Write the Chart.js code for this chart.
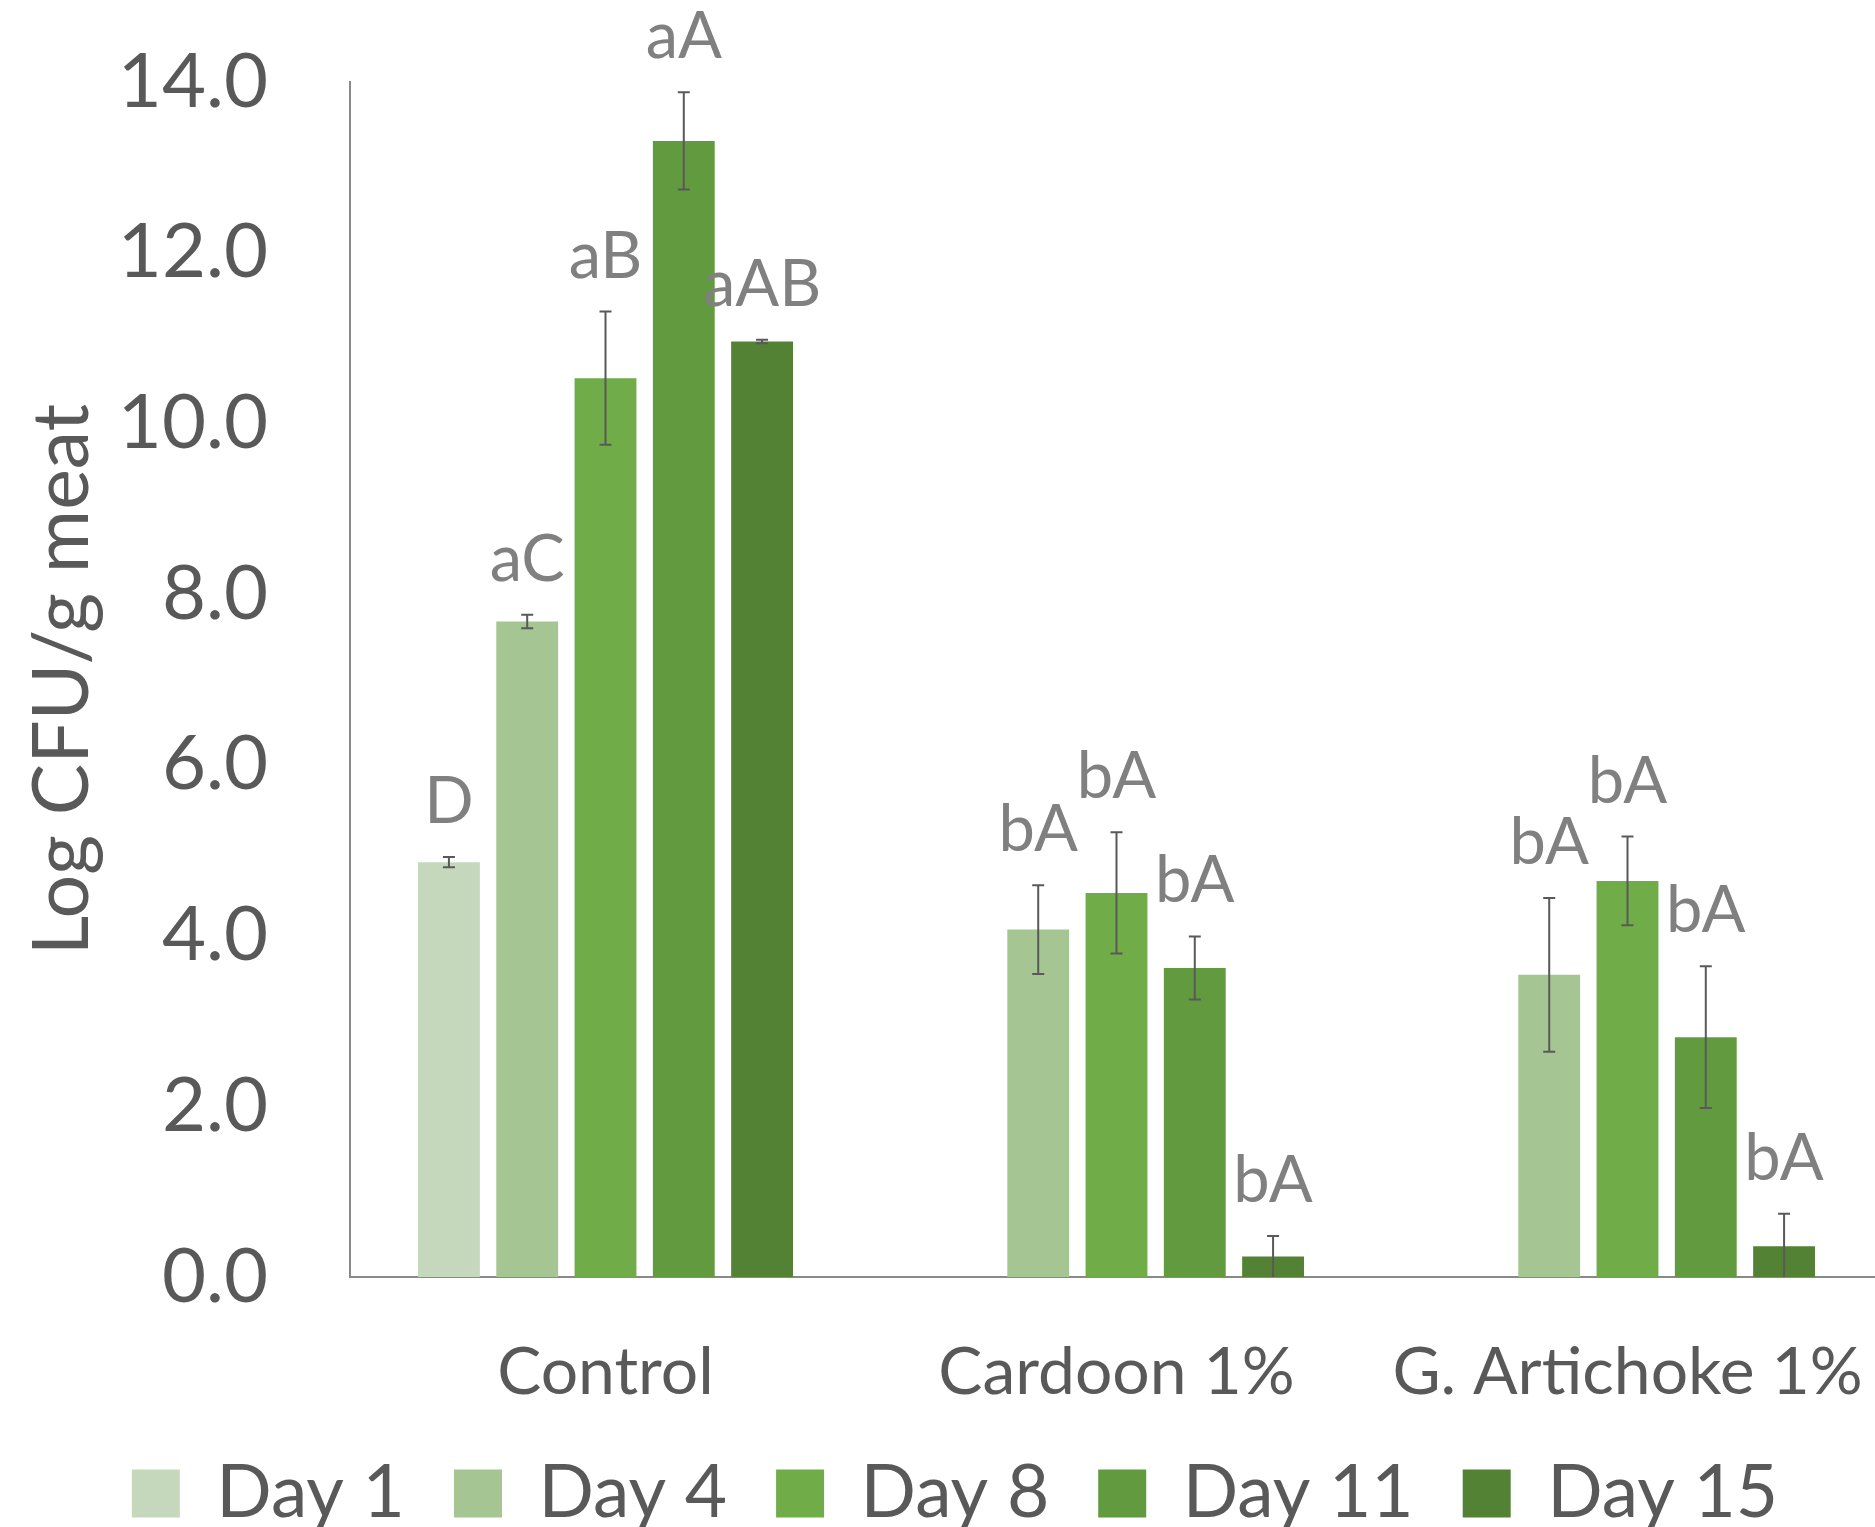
<!DOCTYPE html>
<html>
<head>
<meta charset="utf-8">
<script src="https://cdn.jsdelivr.net/npm/chart.js@4.4.1/dist/chart.umd.min.js"></script>
<style>
  html, body { margin: 0; padding: 0; background: #ffffff; overflow: hidden; width: 1875px; height: 1527px; }
  canvas { display: block; }
</style>
</head>
<body>
<canvas id="chart" width="1883" height="1540"></canvas>
<script>
// ---------------- data ----------------
const categories = ['Control', 'Cardoon 1%', 'G. Artichoke 1%'];
const seriesNames = ['Day 1', 'Day 4', 'Day 8', 'Day 11', 'Day 15'];

const day1  = [4.86, null, null];
const day4  = [7.68, 4.07, 3.54];
const day8  = [10.53, 4.50, 4.64];
const day11 = [13.31, 3.62, 2.81];
const day15 = [10.96, 0.24, 0.36];

const errDay1  = [0.06, null, null];
const errDay4  = [0.08, 0.52, 0.90];
const errDay8  = [0.78, 0.71, 0.52];
const errDay11 = [0.57, 0.37, 0.83];
const errDay15 = [0.02, 0.24, 0.38];

const sigDay1  = ['D', '', ''];
const sigDay4  = ['aC', 'bA', 'bA'];
const sigDay8  = ['aB', 'bA', 'bA'];
const sigDay11 = ['aA', 'bA', 'bA'];
const sigDay15 = ['aAB', 'bA', 'bA'];

const yTickValues = [0, 2, 4, 6, 8, 10, 12, 14];
const yTitle = 'Log CFU/g meat';

// ---------------- styles ----------------
const colors = ['#C5D8BB', '#A5C592', '#70AC48', '#629A3F', '#548235'];
const FONT = 'Lato, "Open Sans", sans-serif';

const values = [day1, day4, day8, day11, day15];
const errors = [errDay1, errDay4, errDay8, errDay11, errDay15];
const sigs = [sigDay1, sigDay4, sigDay8, sigDay11, sigDay15];

const datasets = seriesNames.map((name, i) => ({
  label: name,
  data: values[i],
  errors: errors[i],
  sig: sigs[i],
  backgroundColor: colors[i],
  borderColor: colors[i],
  borderWidth: 0,
  barPercentage: 0.79,
  categoryPercentage: 0.766
}));

const errorBarPlugin = {
  id: 'errorBars',
  afterDatasetsDraw(chart) {
    const ctx = chart.ctx;
    const y = chart.scales.y;
    ctx.save();
    chart.data.datasets.forEach((ds, i) => {
      const meta = chart.getDatasetMeta(i);
      meta.data.forEach((bar, j) => {
        const v = ds.data[j];
        const e = ds.errors[j];
        if (v === null || v === undefined) return;
        const x = bar.x;
        let topPx = y.getPixelForValue(v);
        if (e !== null && e !== undefined) {
          topPx = y.getPixelForValue(v + e);
          const low = v - e;
          const botPx = y.getPixelForValue(Math.max(0, low));
          ctx.strokeStyle = '#595959';
          ctx.lineWidth = 2;
          ctx.beginPath();
          ctx.moveTo(x, topPx);
          ctx.lineTo(x, botPx);
          ctx.moveTo(x - 6, topPx);
          ctx.lineTo(x + 6, topPx);
          if (low > 0) {
            ctx.moveTo(x - 6, botPx);
            ctx.lineTo(x + 6, botPx);
          }
          ctx.stroke();
        }
        const txt = ds.sig[j];
        if (txt) {
          ctx.fillStyle = '#808080';
          ctx.font = '65px ' + FONT;
          ctx.textAlign = 'center';
          ctx.textBaseline = 'middle';
          ctx.fillText(txt, x, topPx - 55);
        }
      });
    });
    ctx.restore();
  }
};

new Chart(document.getElementById('chart'), {
  type: 'bar',
  data: { labels: categories, datasets },
  options: {
    responsive: false,
    animation: false,
    devicePixelRatio: 1,
    layout: { padding: { left: 27, right: 0, top: 82, bottom: 0 } },
    plugins: {
      legend: {
        position: 'bottom',
        align: 'center',
        labels: {
          boxWidth: 48,
          boxHeight: 48,
          padding: 49,
          color: '#595959',
          font: { family: FONT, size: 73 }
        }
      },
      tooltip: { enabled: false }
    },
    scales: {
      x: {
        grid: { display: false, drawTicks: false },
        border: { display: true, color: '#898989', width: 2 },
        ticks: {
          color: '#595959',
          padding: 56,
          autoSkip: false,
          maxRotation: 0,
          font: { family: FONT, size: 66 }
        },
        afterFit(scale) {
          scale.height = 131;
          scale.paddingLeft = 0;
          scale.paddingRight = 0;
        }
      },
      y: {
        min: 0,
        max: 14,
        grid: { display: false, drawTicks: false },
        border: { display: true, color: '#898989', width: 2 },
        afterBuildTicks(scale) {
          scale.ticks = yTickValues.map(v => ({ value: v }));
        },
        ticks: {
          color: '#595959',
          padding: 82,
          font: { family: FONT, size: 76 },
          callback: (v) => Number(v).toFixed(1)
        },
        title: {
          display: true,
          text: yTitle,
          color: '#595959',
          padding: { top: 2, bottom: 0 },
          font: { family: FONT, size: 77, lineHeight: 0.9 }
        },
        afterFit(scale) {
          scale.width = 323;
          scale.paddingTop = 0;
          scale.paddingBottom = 0;
        }
      }
    }
  },
  plugins: [errorBarPlugin]
});
</script>
</body>
</html>
